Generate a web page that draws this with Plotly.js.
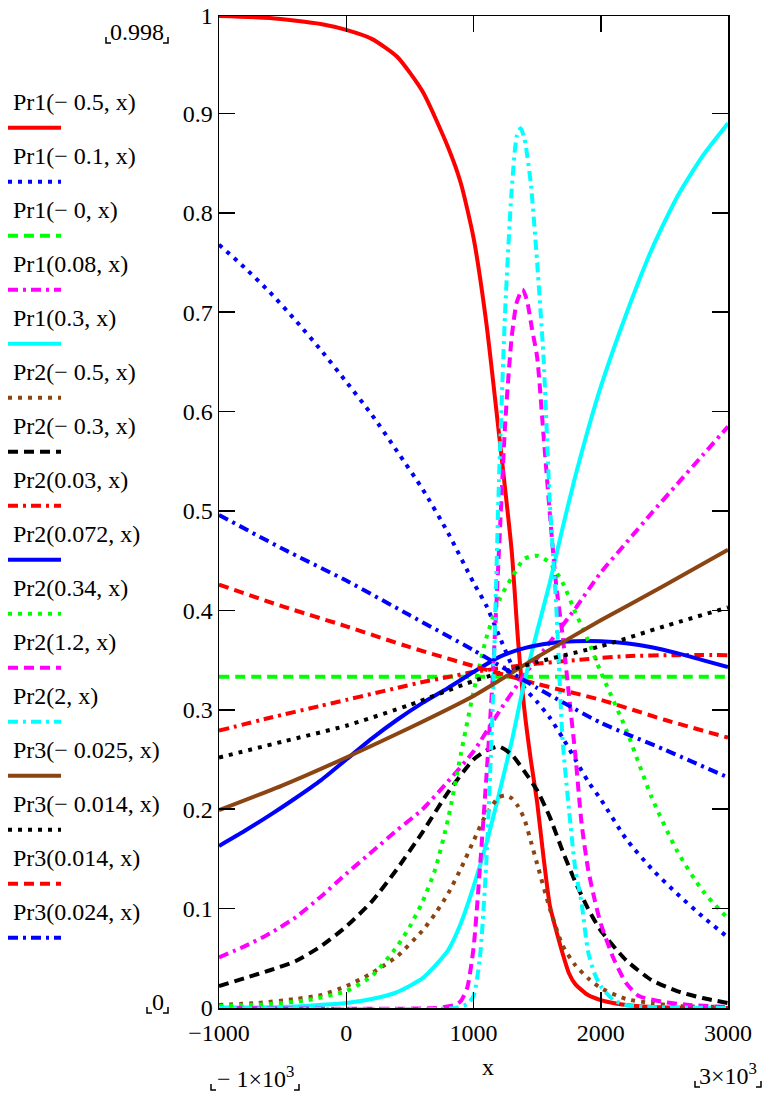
<!DOCTYPE html>
<html>
<head>
<meta charset="utf-8">
<script src="https://cdn.plot.ly/plotly-3.0.1.min.js"></script>
<style>
html,body{margin:0;padding:0;background:#fff;}
#chart{width:768px;height:1103px;}
</style>
</head>
<body>
<div id="chart"></div>
<script>
// ---------------- DATA ----------------
const seriesNames = [
  "Pr1(\u2212 0.5, x)", "Pr1(\u2212 0.1, x)", "Pr1(\u2212 0, x)", "Pr1(0.08, x)", "Pr1(0.3, x)",
  "Pr2(\u2212 0.5, x)", "Pr2(\u2212 0.3, x)", "Pr2(0.03, x)", "Pr2(0.072, x)", "Pr2(0.34, x)",
  "Pr2(1.2, x)", "Pr2(2, x)", "Pr3(\u2212 0.025, x)", "Pr3(\u2212 0.014, x)", "Pr3(0.014, x)", "Pr3(0.024, x)"
];

// Pr1(-0.5, x)
const pr1_m05_x = [-1000,-600,-200,0,200,400,600,800,900,1000,1100,1200,1300,1350,1400,1450,1500,1550,1600,1650,1700,1750,1800,1900,2000,2200,2400,2700,3000];
const pr1_m05_y = [0.998,0.996,0.99,0.984,0.975,0.957,0.922,0.866,0.83,0.775,0.69,0.578,0.46,0.37,0.3,0.25,0.207,0.152,0.103,0.078,0.055,0.035,0.024,0.013,0.008,0.003,0.001,0,0];
// Pr1(-0.1, x)
const pr1_m01_x = [-1000,-800,-600,-400,-200,0,200,400,600,800,1000,1100,1200,1300,1400,1500,1600,1700,1800,1900,2000,2200,2400,2600,2800,3000];
const pr1_m01_y = [0.768,0.745,0.72,0.692,0.662,0.63,0.597,0.56,0.522,0.478,0.428,0.405,0.375,0.345,0.322,0.308,0.292,0.272,0.25,0.228,0.21,0.17,0.14,0.115,0.092,0.071];
// Pr1(-0, x)
const pr1_m0_x = [-1000,0,1000,2000,3000];
const pr1_m0_y = [0.3333,0.3333,0.3333,0.3333,0.3333];
// Pr1(0.08, x)
const pr1_008_x = [-1000,-800,-600,-400,-200,0,200,400,600,800,1000,1200,1400,1600,1800,2000,2200,2400,2600,2800,3000];
const pr1_008_y = [0.051,0.062,0.075,0.091,0.112,0.135,0.157,0.179,0.2,0.228,0.258,0.298,0.335,0.368,0.402,0.438,0.468,0.498,0.527,0.556,0.585];
// Pr1(0.3, x)
const pr1_03_x = [-1000,-500,0,200,400,600,800,900,1000,1100,1200,1300,1400,1500,1600,1700,1800,1900,2000,2200,2400,2600,2800,3000];
const pr1_03_y = [0.0005,0.001,0.005,0.009,0.016,0.03,0.058,0.085,0.122,0.165,0.215,0.268,0.328,0.379,0.428,0.483,0.535,0.582,0.625,0.698,0.763,0.816,0.857,0.89];
// Pr2(-0.5, x)
const pr2_m05_x = [-1000,-700,-400,-200,0,200,400,600,700,800,900,1000,1100,1200,1250,1300,1350,1400,1450,1500,1600,1700,1800,1900,2000,2200,2400,2600,3000];
const pr2_m05_y = [0.003,0.005,0.009,0.013,0.022,0.035,0.052,0.078,0.095,0.115,0.14,0.168,0.195,0.212,0.214,0.211,0.203,0.19,0.168,0.145,0.1,0.063,0.043,0.03,0.02,0.009,0.005,0.002,0.001];
// Pr2(-0.3, x)
const pr2_m03_x = [-1000,-800,-600,-400,-200,0,200,400,600,800,1000,1100,1200,1300,1400,1500,1600,1700,1800,1900,2000,2200,2400,2600,2800,3000];
const pr2_m03_y = [0.022,0.03,0.038,0.047,0.062,0.082,0.107,0.14,0.177,0.217,0.25,0.259,0.263,0.255,0.238,0.219,0.192,0.158,0.127,0.1,0.078,0.048,0.028,0.017,0.01,0.005];
// Pr2(0.03, x)
const pr2_003_x = [-1000,-600,-200,0,200,400,600,800,1000,1400,1800,2200,2600,3000];
const pr2_003_y = [0.279,0.292,0.304,0.31,0.316,0.322,0.328,0.333,0.338,0.345,0.35,0.354,0.355,0.355];
// Pr2(0.072, x)
const pr2_0072_x = [-1000,-800,-600,-400,-200,0,200,400,600,800,1000,1200,1400,1600,1800,2000,2200,2400,2600,2800,3000];
const pr2_0072_y = [0.163,0.178,0.194,0.211,0.229,0.25,0.271,0.29,0.307,0.322,0.338,0.353,0.362,0.367,0.369,0.369,0.367,0.363,0.357,0.35,0.343];
// Pr2(0.34, x)
const pr2_034_x = [-1000,-600,-300,0,200,400,500,600,700,800,900,1000,1100,1200,1300,1400,1500,1600,1700,1800,1900,2000,2200,2400,2600,2800,3000];
const pr2_034_y = [0.002,0.004,0.008,0.017,0.032,0.062,0.082,0.107,0.14,0.19,0.255,0.318,0.372,0.41,0.433,0.452,0.455,0.448,0.428,0.398,0.37,0.338,0.28,0.212,0.158,0.118,0.09];
// Pr2(1.2, x)
const pr2_12_x = [-1000,700,850,900,950,1000,1050,1100,1150,1200,1250,1300,1340,1385,1420,1460,1500,1550,1600,1650,1700,1750,1800,1850,1900,1950,2000,2100,2200,2300,2500,2700,3000];
const pr2_12_y = [0,0,0.003,0.007,0.02,0.06,0.14,0.23,0.33,0.46,0.59,0.675,0.71,0.723,0.712,0.683,0.655,0.577,0.497,0.425,0.375,0.315,0.255,0.185,0.14,0.11,0.085,0.05,0.025,0.012,0.006,0.003,0.001];
// Pr2(2, x)
const pr2_2_x = [-1000,850,950,1000,1050,1100,1150,1200,1250,1300,1340,1370,1400,1450,1500,1550,1600,1650,1700,1750,1800,1850,1900,1950,2000,2100,2200,2400,3000];
const pr2_2_y = [0,0,0.004,0.012,0.05,0.145,0.3,0.53,0.705,0.823,0.877,0.885,0.875,0.83,0.75,0.655,0.508,0.405,0.27,0.2,0.14,0.105,0.057,0.035,0.022,0.008,0.003,0.001,0];
// Pr3(-0.025, x)
const pr3_m0025_x = [-1000,-500,0,500,1000,1500,2000,2500,3000];
const pr3_m0025_y = [0.199,0.224,0.252,0.282,0.314,0.353,0.39,0.425,0.461];
// Pr3(-0.014, x)
const pr3_m0014_x = [-1000,-500,0,500,1000,1500,2000,2500,3000];
const pr3_m0014_y = [0.252,0.268,0.284,0.305,0.329,0.348,0.364,0.384,0.403];
// Pr3(0.014, x)
const pr3_0014_x = [-1000,-500,0,500,1000,1500,2000,2500,3000];
const pr3_0014_y = [0.426,0.404,0.384,0.363,0.344,0.326,0.31,0.29,0.272];
// Pr3(0.024, x)
const pr3_0024_x = [-1000,-500,0,500,1000,1500,2000,2500,3000];
const pr3_0024_y = [0.496,0.462,0.43,0.395,0.36,0.322,0.287,0.26,0.232];

const xTickVals = [-1000,0,1000,2000,3000];
const xTickText = ["\u22121000","0","1000","2000","3000"];
const yTickVals = [0,0.1,0.2,0.3,0.4,0.5,0.6,0.7,0.8,0.9,0.998];
const yTickText = ["0","0.1","0.2","0.3","0.4","0.5","0.6","0.7","0.8","0.9","1"];

// ---------------- STYLE ----------------
const BROWN = "#8B4513";
const DOT = "4px,6px", DASH = "10px,6px", DASHDOT = "10px,5px,3px,5px";
const styles = [
  {c:"#FF0000", d:"solid"}, {c:"#0000FF", d:DOT}, {c:"#00FF00", d:DASH}, {c:"#FF00FF", d:DASHDOT}, {c:"#00FFFF", d:"solid"},
  {c:BROWN, d:DOT}, {c:"#000000", d:DASH}, {c:"#FF0000", d:DASHDOT}, {c:"#0000FF", d:"solid"}, {c:"#00FF00", d:DOT},
  {c:"#FF00FF", d:DASH}, {c:"#00FFFF", d:DASHDOT}, {c:BROWN, d:"solid"}, {c:"#000000", d:DOT}, {c:"#FF0000", d:DASH}, {c:"#0000FF", d:DASHDOT}
];
const xs = [pr1_m05_x,pr1_m01_x,pr1_m0_x,pr1_008_x,pr1_03_x,pr2_m05_x,pr2_m03_x,pr2_003_x,pr2_0072_x,pr2_034_x,pr2_12_x,pr2_2_x,pr3_m0025_x,pr3_m0014_x,pr3_0014_x,pr3_0024_x];
const ys = [pr1_m05_y,pr1_m01_y,pr1_m0_y,pr1_008_y,pr1_03_y,pr2_m05_y,pr2_m03_y,pr2_003_y,pr2_0072_y,pr2_034_y,pr2_12_y,pr2_2_y,pr3_m0025_y,pr3_m0014_y,pr3_0014_y,pr3_0024_y];

const LW = 4;
const traces = xs.map((x,i)=>({
  type:"scatter", mode:"lines", x:x, y:ys[i], name:seriesNames[i],
  line:{color:styles[i].c, dash:styles[i].d, width:LW, shape:"spline", smoothing:0.6},
  showlegend:false, hoverinfo:"skip", cliponaxis:true
}));

// plot area in pixels
const L=219, R=728, T=16, B=1008;
const px = v => (v - L)/(R - L);
const py = v => (B - v)/(B - T);
const FONT = "'Liberation Serif', 'Times New Roman', serif";
const FS = 24;

const annotations = [];
const shapes = [];
// custom legend
seriesNames.forEach((n,i)=>{
  const ty = 101.5 + 54*i, ly = 127.7 + 54*i;
  annotations.push({xref:"paper", yref:"paper", x:px(11), y:py(ty), xanchor:"left", yanchor:"middle",
    text:n, showarrow:false, font:{family:FONT, size:FS, color:"#000"}});
  shapes.push({type:"line", xref:"paper", yref:"paper", x0:px(8), x1:px(61), y0:py(ly), y1:py(ly),
    line:{color:styles[i].c, width:LW, dash:styles[i].d}});
});
// limit placeholders with corner brackets
function limitLabel(text, cx, cy, xl, xr, yb){
  annotations.push({xref:"paper", yref:"paper", x:px(cx), y:py(cy), xanchor:"center", yanchor:"middle",
    text:text, showarrow:false, font:{family:FONT, size:FS, color:"#000"}});
  shapes.push({type:"path", xref:"paper", yref:"paper",
    path:`M ${px(xl)} ${py(yb-6)} L ${px(xl)} ${py(yb)} L ${px(xl+5)} ${py(yb)}`, line:{color:"#000", width:1.5}});
  shapes.push({type:"path", xref:"paper", yref:"paper",
    path:`M ${px(xr-5)} ${py(yb)} L ${px(xr)} ${py(yb)} L ${px(xr)} ${py(yb-6)}`, line:{color:"#000", width:1.5}});
}
limitLabel("0.998", 137, 32, 106, 168, 43);
limitLabel("0", 157.5, 1002, 147, 168, 1013);
limitLabel("\u2212 1\u00d710<sup>3</sup>", 255, 1077, 211, 299, 1090);
limitLabel("3\u00d710<sup>3</sup>", 728, 1074, 695, 761, 1087);
annotations.push({xref:"paper", yref:"paper", x:px(488), y:py(1067), xanchor:"center", yanchor:"middle",
  text:"x", showarrow:false, font:{family:FONT, size:FS, color:"#000"}});

const axisCommon = {
  showgrid:false, zeroline:false, showline:true, linecolor:"#000", linewidth:1.5, mirror:"ticks",
  ticks:"inside", ticklen:16, tickwidth:1.5, tickcolor:"#000",
  tickfont:{family:FONT, size:FS, color:"#000"}, tickmode:"array"
};

const layout = {
  width:768, height:1103,
  margin:{l:L, r:768-R, t:T, b:1103-B, pad:0},
  paper_bgcolor:"#fff", plot_bgcolor:"#fff",
  showlegend:false,
  xaxis:Object.assign({}, axisCommon, {range:[-1000,3000], tickvals:xTickVals, ticktext:xTickText, ticklabelstandoff:3}),
  yaxis:Object.assign({}, axisCommon, {range:[0,0.998], tickvals:yTickVals, ticktext:yTickText, ticklabelstandoff:0}),
  annotations:annotations, shapes:shapes
};

Plotly.newPlot("chart", traces, layout, {staticPlot:true, displayModeBar:false});
</script>
</body>
</html>
